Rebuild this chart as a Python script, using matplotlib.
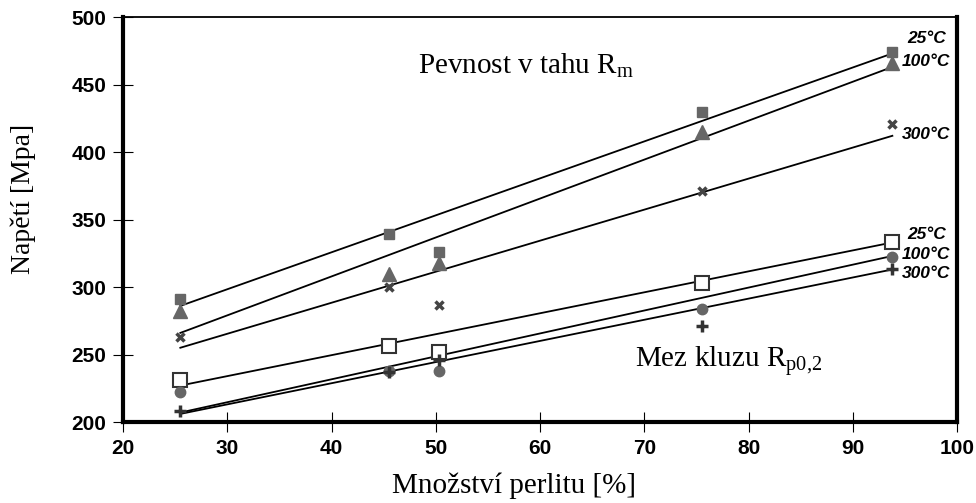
import numpy as np
import matplotlib.pyplot as plt

plt.rcParams['mathtext.fontset'] = 'custom'
plt.rcParams['mathtext.rm'] = 'Liberation Serif'

# obsah perlitu [%]
perlit = [25.5, 45.5, 50.3, 75.5, 93.8]

# pevnost v tahu Rm
rm_25 = [291, 339, 326, 430, 474]
rm_100 = [282, 310, 318, 415, 466]
rm_300 = [263, 300, 287, 371, 421]

# mez kluzu Rp0,2
rp_25 = [231, 256, 252, 303, 333]
rp_100 = [222, 238, 238, 284, 322]
rp_300 = [208, 237, 246, 271, 313]

# koncove body trendovych car
fit_x = [25.5, 93.8]
fit_rm_25 = [286, 473]
fit_rm_100 = [266, 463]
fit_rm_300 = [255, 412]
fit_rp_25 = [227, 333]
fit_rp_100 = [207, 323]
fit_rp_300 = [206, 313]

teploty = ['25°C', '100°C', '300°C']

fig = plt.figure(figsize=(9.76, 5.03), dpi=100)
ax = fig.add_axes([123/976, 1 - 422/503, 834/976, 405/503])

for fy in (fit_rm_25, fit_rm_100, fit_rm_300, fit_rp_25, fit_rp_100, fit_rp_300):
    ax.plot(fit_x, fy, color='black', lw=1.3, zorder=2)

ax.plot(perlit, rm_25, 's', color='#666666', ms=7, zorder=3)
ax.plot(perlit, rm_100, '^', color='#666666', ms=10, zorder=3)
ax.plot(perlit, rm_300, 'x', color='#444444', ms=6, mew=2.5, zorder=3)
ax.plot(perlit, rp_25, 's', mfc='white', mec='#333333', mew=1.5, ms=10, zorder=3)
ax.plot(perlit, rp_100, 'o', color='#666666', ms=7.5, zorder=3)
ax.plot(perlit, rp_300, '+', color='#333333', ms=8, mew=2.5, zorder=3)

lab = dict(fontsize=12.5, fontweight='bold', fontstyle='italic',
           family='Liberation Sans', ha='left', va='center')
for t, yv in zip(teploty, [484, 467, 413]):
    ax.text(95.2 if t == '25°C' else 94.7, yv, t, **lab)
for t, yv in zip(teploty, [339, 324, 310]):
    ax.text(95.2 if t == '25°C' else 94.7, yv, t, **lab)

ax.text(48.3, 464, 'Pevnost v tahu R$_\\mathrm{m}$', family='Liberation Serif',
        fontsize=21, ha='left', va='center')
ax.text(69.1, 245, 'Mez kluzu R$_\\mathrm{p0{,}2}$', family='Liberation Serif',
        fontsize=21, ha='left', va='center')

ax.set_xlim(20, 100)
ax.set_ylim(200, 500)
ax.set_xticks(np.arange(20, 101, 10))
ax.set_yticks(np.arange(200, 501, 50))

for s in ('left', 'right', 'bottom'):
    ax.spines[s].set_linewidth(3)
ax.spines['top'].set_linewidth(1.3)

ax.tick_params(axis='both', direction='inout', length=14, width=0.8)
ax.tick_params(axis='y', pad=5)
ax.tick_params(axis='x', pad=5)
for lbl in ax.get_xticklabels() + ax.get_yticklabels():
    lbl.set_family('Liberation Sans')
    lbl.set_fontweight('bold')
    lbl.set_fontsize(15)

ax.set_xlabel('Množství perlitu [%]', family='Liberation Serif', fontsize=21)
ax.set_ylabel('Napětí [Mpa]', family='Liberation Serif', fontsize=20)
ax.xaxis.set_label_coords(0.469, -0.125)
ax.yaxis.set_label_coords(-0.104, 0.55)

fig.savefig('out.png', dpi=100)
